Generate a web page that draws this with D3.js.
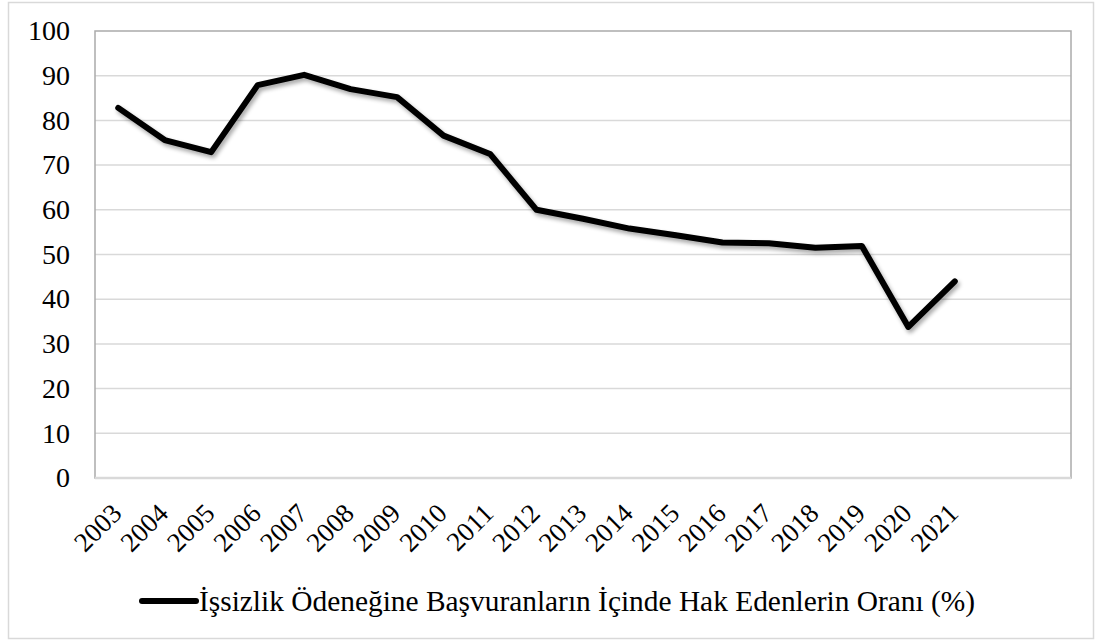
<!DOCTYPE html>
<html>
<head>
<meta charset="utf-8">
<script src="https://cdn.jsdelivr.net/npm/d3@7"></script>
<style>
  body { margin: 0; background: #fff; }
  svg text { font-family: "Liberation Serif", "Times New Roman", serif; fill: #000; }
</style>
</head>
<body>
<div id="chart"></div>
<script>
var years = ["2003","2004","2005","2006","2007","2008","2009","2010","2011","2012",
  "2013","2014","2015","2016","2017","2018","2019","2020","2021"]
var rates = [82.8, 75.6, 72.9, 87.9, 90.2, 87.0, 85.2, 76.6, 72.5, 60.0,
  58.0, 55.8, 54.3, 52.7, 52.5, 51.5, 51.9, 33.8, 44.0]
var yTicks = [0, 10, 20, 30, 40, 50, 60, 70, 80, 90, 100]
var seriesName = "İşsizlik Ödeneğine Başvuranların İçinde Hak Edenlerin Oranı (%)"

var width = 1096, height = 644
var plot = { left: 95, top: 31, right: 1071, bottom: 478 }
var slots = 21 // the axis leaves room for two empty categories on the right

var svg = d3.select("#chart").append("svg")
  .attr("width", width)
  .attr("height", height)

var defs = svg.append("defs")
var shadow = defs.append("filter")
  .attr("id", "shadow")
  .attr("x", "-10%").attr("y", "-10%")
  .attr("width", "120%").attr("height", "130%")
shadow.append("feGaussianBlur").attr("in", "SourceAlpha").attr("stdDeviation", 2.2).attr("result", "blur")
shadow.append("feOffset").attr("dx", 2).attr("dy", 3).attr("result", "off")
shadow.append("feComponentTransfer").append("feFuncA").attr("type", "linear").attr("slope", 0.35)
var merge = shadow.append("feMerge")
merge.append("feMergeNode")
merge.append("feMergeNode").attr("in", "SourceGraphic")

// outer chart border
svg.append("rect")
  .attr("x", 8.5).attr("y", 2.5)
  .attr("width", 1085).attr("height", 636)
  .attr("fill", "none")
  .attr("stroke", "#d9d9d9")
  .attr("stroke-width", 1.5)

var x = d3.scaleBand()
  .domain(d3.range(slots))
  .range([plot.left, plot.right])

var y = d3.scaleLinear()
  .domain([0, 100])
  .range([plot.bottom, plot.top])

// gridlines
svg.append("g")
  .selectAll("line")
  .data(yTicks.filter(function (d) { return d > 0 && d < 100 }))
  .enter().append("line")
  .attr("x1", plot.left).attr("x2", plot.right)
  .attr("y1", function (d) { return y(d) }).attr("y2", function (d) { return y(d) })
  .attr("stroke", "#d9d9d9")
  .attr("stroke-width", 1.5)

// plot area frame
svg.append("rect")
  .attr("x", plot.left).attr("y", plot.top)
  .attr("width", plot.right - plot.left).attr("height", plot.bottom - plot.top)
  .attr("fill", "none")
  .attr("stroke", "#ababab")
  .attr("stroke-width", 1.5)

// x axis line
svg.append("line")
  .attr("x1", plot.left).attr("x2", plot.right)
  .attr("y1", plot.bottom).attr("y2", plot.bottom)
  .attr("stroke", "#d9d9d9")
  .attr("stroke-width", 2.5)

// y labels
svg.append("g")
  .selectAll("text")
  .data(yTicks)
  .enter().append("text")
  .attr("x", 70)
  .attr("y", function (d) { return y(d) })
  .attr("dy", "0.33em")
  .attr("text-anchor", "end")
  .style("font-size", "28px")
  .text(function (d) { return d })

// x labels
svg.append("g")
  .selectAll("text")
  .data(years)
  .enter().append("text")
  .attr("transform", function (d, i) {
    var cx = x(i) + x.bandwidth() / 2
    return "translate(" + (cx + 5) + "," + (plot.bottom + 37) + ") rotate(-45)"
  })
  .attr("text-anchor", "end")
  .style("font-size", "27px")
  .text(function (d) { return d })

var line = d3.line()
  .x(function (d, i) { return x(i) + x.bandwidth() / 2 })
  .y(function (d) { return y(d) })

svg.append("path")
  .datum(rates)
  .attr("d", line)
  .attr("fill", "none")
  .attr("stroke", "#000")
  .attr("stroke-width", 6)
  .attr("stroke-linejoin", "round")
  .attr("stroke-linecap", "round")
  .attr("filter", "url(#shadow)")

// legend
var legend = svg.append("g").attr("transform", "translate(0,601)")
legend.append("line")
  .attr("x1", 142).attr("x2", 196)
  .attr("y1", 0).attr("y2", 0)
  .attr("stroke", "#000")
  .attr("stroke-width", 6)
  .attr("stroke-linecap", "round")
legend.append("text")
  .attr("x", 199)
  .attr("y", 0)
  .attr("dy", "0.33em")
  .style("font-size", "29.4px")
  .text(seriesName)
</script>
</body>
</html>
